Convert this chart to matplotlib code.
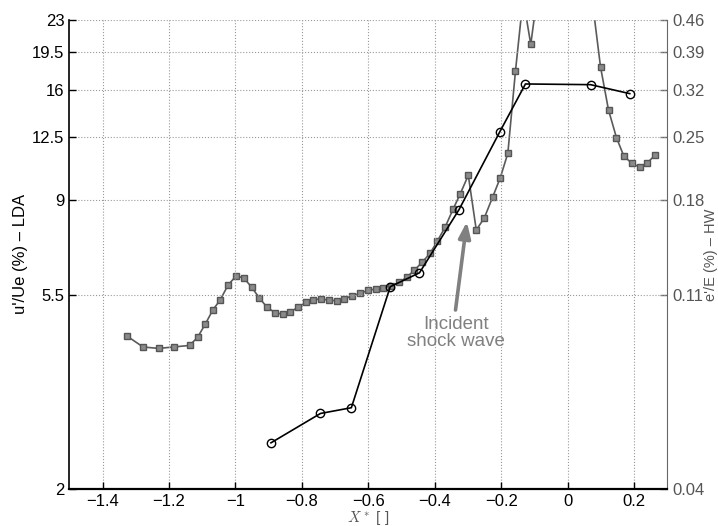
import numpy as np
import matplotlib as mpl
mpl.use('agg')
import matplotlib.pyplot as plt
from matplotlib.ticker import FixedLocator, FixedFormatter, NullLocator

plt.rcParams['font.family'] = ['Liberation Sans', 'DejaVu Sans']
plt.rcParams['mathtext.fontset'] = 'cm'

# hot-wire fluctuations e'/E (%), right axis
x_hw = [-1.326, -1.278, -1.231, -1.186, -1.138, -1.114, -1.091, -1.068,
        -1.046, -1.022, -0.998, -0.975, -0.951, -0.929, -0.905, -0.881,
        -0.858, -0.835, -0.811, -0.788, -0.765, -0.742, -0.718, -0.695,
        -0.672, -0.648, -0.625, -0.601, -0.578, -0.555, -0.531, -0.507,
        -0.484, -0.461, -0.438, -0.414, -0.392, -0.369, -0.345, -0.323,
        -0.299, -0.275, -0.251, -0.226, -0.203, -0.180, -0.157, -0.134,
        -0.111, -0.088, -0.065, -0.042, -0.019, 0.005, 0.028, 0.051,
        0.074, 0.099, 0.123, 0.147, 0.169, 0.193, 0.217, 0.240, 0.263]
e_hw = [0.0886, 0.0837, 0.0831, 0.0837, 0.0844, 0.0880, 0.0942, 0.1015,
        0.1069, 0.1156, 0.1212, 0.1200, 0.1143, 0.1083, 0.1030, 0.1001,
        0.0993, 0.1006, 0.1029, 0.1057, 0.1071, 0.1075, 0.1068, 0.1065,
        0.1076, 0.1093, 0.1107, 0.1124, 0.1132, 0.1141, 0.1149, 0.1173,
        0.1204, 0.1250, 0.1301, 0.1364, 0.1454, 0.1562, 0.1715, 0.1861,
        0.2048, 0.1540, 0.1639, 0.1826, 0.2019, 0.2297, 0.3527, 0.515,
        0.4053, 0.545, 0.60, 0.66, 0.70, 0.70, 0.66, 0.60,
        0.51, 0.3601, 0.2878, 0.2491, 0.2265, 0.2180, 0.2135, 0.2187, 0.2273]

# LDA fluctuations u'/Ue (%), left axis
x_lda = [-0.893, -0.744, -0.651, -0.534, -0.446, -0.327, -0.205, -0.127, 0.069, 0.187]
u_lda = [2.54, 2.96, 3.05, 5.73, 6.16, 8.56, 12.81, 16.48, 16.42, 15.67]

x_ticks = [-1.4, -1.2, -1.0, -0.8, -0.6, -0.4, -0.2, 0.0, 0.2]
x_labels = ['\u22121.4', '\u22121.2', '\u22121', '\u22120.8', '\u22120.6',
            '\u22120.4', '\u22120.2', '0', '0.2']
u_ticks = [2, 5.5, 9, 12.5, 16, 19.5, 23]
e_ticks = [0.04, 0.11, 0.18, 0.25, 0.32, 0.39, 0.46]

grey = '#808080'
fig = plt.figure(figsize=(7.18, 5.26), dpi=100)
ax = fig.add_axes([0.0965, 0.0709, 0.8329, 0.8911])
ax2 = ax.twinx()
ax.set_zorder(ax2.get_zorder() + 1)
ax.patch.set_visible(False)

ax2.plot(x_hw, e_hw, '-s', color='#5a5a5a', lw=1.2, ms=4,
         mfc='#8a8a8a', mec='#555555', mew=1.0)
ax.plot(x_lda, u_lda, '-o', color='black', lw=1.2, ms=6,
        mfc='none', mec='black', mew=1.0)

ax.set_xlim(-1.5, 0.3)
for a, lo, hi in ((ax, 2, 23), (ax2, 0.04, 0.46)):
    a.set_yscale('log')
    a.set_ylim(lo, hi)
    a.yaxis.set_minor_locator(NullLocator())

ax.yaxis.set_major_locator(FixedLocator(u_ticks))
ax.yaxis.set_major_formatter(FixedFormatter(['%g' % t for t in u_ticks]))
ax2.yaxis.set_major_locator(FixedLocator(e_ticks))
ax2.yaxis.set_major_formatter(FixedFormatter(['%.2f' % t for t in e_ticks]))
ax.set_xticks(x_ticks)
ax.set_xticklabels(x_labels)

ax.tick_params(direction='in', length=5, labelsize=12, width=1)
ax.tick_params(axis='x', pad=4)
ax2.tick_params(direction='in', length=5, labelsize=12, width=1,
                color='#666666', labelcolor='#555555')
ax.grid(True, linestyle=':', color='#9a9a9a', lw=0.8)

for s in ('top', 'right'):
    ax.spines[s].set_visible(False)
for s in ('top', 'left', 'bottom'):
    ax2.spines[s].set_visible(False)
ax2.spines['right'].set_color('#666666')
ax.spines['left'].set_linewidth(1.2)
ax.spines['bottom'].set_linewidth(1.6)

ax.annotate('', xy=(-0.3033, 8.04), xytext=(-0.3375, 5.075),
            arrowprops=dict(arrowstyle='-|>,head_length=0.8,head_width=0.3',
                            color=grey, lw=2.6, mutation_scale=12,
                            shrinkA=0, shrinkB=0))
ax.text(-0.335, 4.5, 'Incident\nshock wave', ha='center', va='center',
        color=grey, fontsize=13.5, linespacing=1.05)

fig.text(0.028, 0.517, "u'/Ue (%) \u2013 LDA", rotation=90,
         ha='center', va='center', fontsize=12)
fig.text(0.9905, 0.515, "e'/E (%) \u2013 HW", rotation=90,
         ha='center', va='center', fontsize=10.5, color='#555555')
fig.text(0.5125, 0.0155, r'$X^*$ [ ]', ha='center', va='center',
         fontsize=11, color='#555555')

fig.savefig('out.png', dpi=100)
